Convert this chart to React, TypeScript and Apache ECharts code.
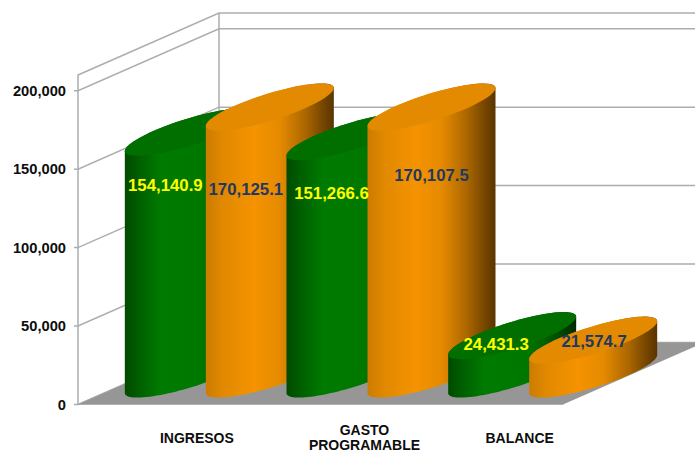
import React, { useEffect, useRef } from "react";
import * as echarts from "echarts";

const categories = ["INGRESOS", "GASTO\nPROGRAMABLE", "BALANCE"];
const greenValues = [154140.9, 151266.6, 24431.3];
const orangeValues = [170125.1, 170107.5, 21574.7];
const wallLevels = [0, 50000, 100000, 150000, 200000, 210000];

// layout, kept apart from the data
const DEPTH_X = 141;
const DEPTH_Y = -62;
const BAR_HALF = 64;
const BAR_SPREAD = 40.5;
const BAR_LIFT = 30.5;
const ELL_SLOPE = 19;
const ELL_MINOR = 14;
const greenLabelShift = [[-23.5, 53.5], [-19, 56.5], [-16, 8.5]];
const orangeLabelShift = [[-24, 82.5], [0, 68.5], [1, 1.5]];
const categoryPadding = [[7, 0, 0, 76], [0, 0, 0, 88], [1, 0, 0, 75]];
const FONT = "Liberation Sans";

const greenSide = [
  { offset: 0, color: "#004a00" },
  { offset: 0.12, color: "#006000" },
  { offset: 0.28, color: "#007a00" },
  { offset: 0.6, color: "#007800" },
  { offset: 0.85, color: "#005000" },
  { offset: 1, color: "#002800" },
];
const orangeSide = [
  { offset: 0, color: "#cc7c00" },
  { offset: 0.14, color: "#e28900" },
  { offset: 0.38, color: "#f59300" },
  { offset: 0.58, color: "#e58a00" },
  { offset: 0.78, color: "#aa6600" },
  { offset: 0.92, color: "#744500" },
  { offset: 1, color: "#5a3500" },
];

const arc = (cx: number, cy: number, from: number, to: number) => {
  const pts: number[][] = [];
  const n = 48;
  for (let i = 0; i <= n; i++) {
    const t = from + ((to - from) * i) / n;
    pts.push([cx + BAR_HALF * Math.cos(t), cy - ELL_SLOPE * Math.cos(t) + ELL_MINOR * Math.sin(t)]);
  }
  return pts;
};

const cylinder = (
  sign: number,
  sideStops: any[],
  topColor: string,
  labelColor: string,
  shifts: number[][],
  order: number
) => (params: any, api: any) => {
  const cat = api.value(0);
  const val = api.value(1);
  const top = api.coord([cat, val]);
  const base = api.coord([cat, 0]);
  const cx = top[0] + DEPTH_X / 2 + sign * BAR_SPREAD;
  const baseY = base[1] - BAR_LIFT;
  const topY = top[1] - BAR_LIFT;
  const z = cat * 2 + order;
  const side = [...arc(cx, baseY, Math.PI, 0), ...arc(cx, topY, 0, -Math.PI)];
  return {
    type: "group",
    children: [
      {
        type: "polygon",
        z2: z * 2 + 1,
        shape: { points: side },
        style: {
          fill: { type: "linear", x: 0, y: 0, x2: 1, y2: 0, colorStops: sideStops },
        },
      },
      {
        type: "polygon",
        z2: z * 2 + 2,
        shape: { points: arc(cx, topY, 0, 2 * Math.PI) },
        style: { fill: topColor },
      },
      {
        type: "text",
        z2: 100,
        style: {
          text: val.toLocaleString("en-US", { minimumFractionDigits: 1, maximumFractionDigits: 1 }),
          x: cx + shifts[cat][0],
          y: topY + shifts[cat][1],
          fill: labelColor,
          font: `bold 16.8px "${FONT}"`,
          textAlign: "center",
          textVerticalAlign: "middle",
        },
      },
    ],
  };
};

export default function App() {
  const ref = useRef<HTMLDivElement>(null);
  useEffect(() => {
    document.body.style.margin = "0";
    const chart = echarts.init(ref.current!, null, { renderer: "svg" });
    chart.setOption({
      animation: false,
      backgroundColor: "#ffffff",
      grid: { left: 78, right: 132, top: 75, bottom: 48.5, outerBoundsMode: "none" },
      xAxis: {
        type: "category",
        data: categories.map((value, i) => ({
          value,
          textStyle: {
            padding: categoryPadding[i],
            verticalAlign: "middle",
            align: "center",
            lineHeight: 15,
          },
        })),
        axisTick: { show: false },
        axisLine: { show: true, lineStyle: { color: "#c8c8c8", width: 1 } },
        axisLabel: {
          interval: 0,
          margin: 33,
          verticalAlign: "middle",
          lineHeight: 15,
          color: "#0d0d0d",
          fontFamily: FONT,
          fontWeight: "bold",
          fontSize: 14,
        },
      },
      yAxis: {
        type: "value",
        min: 0,
        max: 210000,
        interval: 50000,
        splitLine: { show: false },
        axisTick: { show: false },
        axisLine: { show: true, lineStyle: { color: "#adadad", width: 1.5 } },
        axisLabel: {
          showMaxLabel: false,
          margin: 12,
          color: "#0d0d0d",
          fontFamily: FONT,
          fontWeight: "bold",
          fontSize: 14.7,
          formatter: (v: number) => (v > 200000 ? "" : v.toLocaleString("en-US")),
        },
      },
      series: [
        {
          type: "custom",
          silent: true,
          z: 1,
          clip: false,
          data: wallLevels.map((v) => [0, v]),
          renderItem: (params: any, api: any) => {
            const sys = params.coordSys;
            const level = api.value(1);
            const y = api.coord([0, level])[1];
            const x0 = sys.x;
            const lineStyle = { stroke: "#adadad", lineWidth: 1.5, fill: null };
            const children: any[] = [];
            const isTop = level === 210000;
            children.push({
              type: "polyline",
              shape: {
                points: [
                  ...(isTop ? [] : [[x0 - 4, y]]),
                  [x0, y],
                  [x0 + DEPTH_X, y + DEPTH_Y],
                  [720, y + DEPTH_Y],
                ],
              },
              style: lineStyle,
            });
            if (isTop) {
              children.push({
                type: "line",
                shape: { x1: x0 + DEPTH_X, y1: y + DEPTH_Y, x2: x0 + DEPTH_X, y2: sys.y + sys.height + DEPTH_Y },
                style: lineStyle,
              });
            }
            if (level === 0) {
              children.push({
                type: "polygon",
                z2: 1,
                shape: {
                  points: [
                    [x0, y],
                    [x0 + DEPTH_X, y + DEPTH_Y],
                    [x0 + sys.width + DEPTH_X, y + DEPTH_Y],
                    [x0 + sys.width, y],
                  ],
                },
                style: { fill: "#969696" },
              });
            }
            return { type: "group", children };
          },
        },
        {
          type: "custom",
          name: "green",
          z: 3,
          clip: false,
          data: greenValues.map((v, i) => [i, v]),
          renderItem: cylinder(-1, greenSide, "#006f00", "#ffff00", greenLabelShift, 0),
        },
        {
          type: "custom",
          name: "orange",
          z: 3,
          clip: false,
          data: orangeValues.map((v, i) => [i, v]),
          renderItem: cylinder(1, orangeSide, "#e38a00", "#1f3864", orangeLabelShift, 1),
        },
      ],
    });
    return () => chart.dispose();
  }, []);
  return <div ref={ref} style={{ width: 695, height: 453 }} />;
}
